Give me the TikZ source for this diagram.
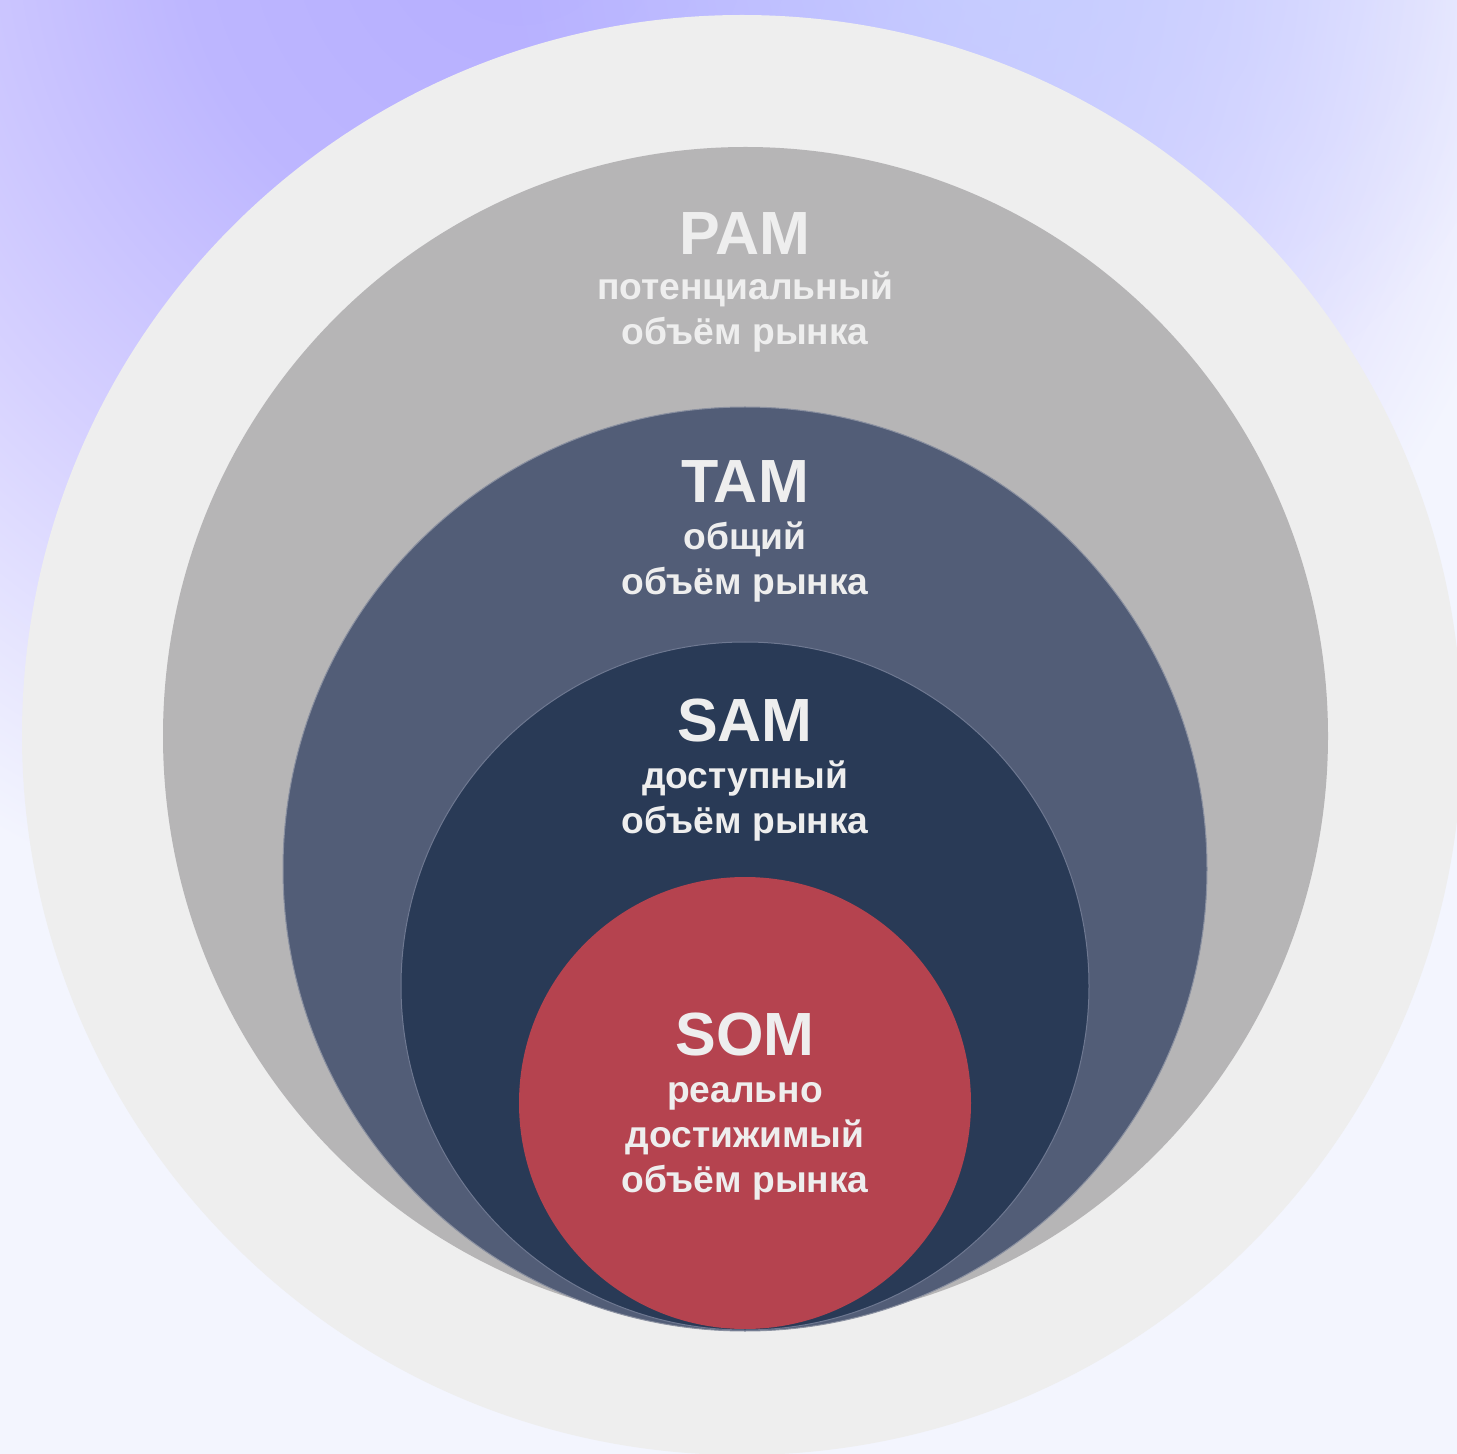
\documentclass[tikz,border=0pt]{standalone}
\usepackage{fontspec}
\usetikzlibrary{fadings}
\setmainfont{Liberation Sans}
\definecolor{bgc}{HTML}{F3F5FE}
\definecolor{glowA}{HTML}{B5AEFF}
\definecolor{glowB}{HTML}{BDB6FF}
\definecolor{glowC}{HTML}{D6D1FF}
\definecolor{glowblue}{HTML}{C6D0FF}
\definecolor{outerc}{HTML}{EEEEEE}
\definecolor{pamc}{HTML}{B6B5B6}
\definecolor{tamc}{HTML}{525D77}
\definecolor{tamedge}{HTML}{8A90A0}
\definecolor{samc}{HTML}{293A56}
\definecolor{samedge}{HTML}{6E7891}
\definecolor{somc}{HTML}{B5434F}
\definecolor{txtc}{HTML}{EEEEEE}
\pgfdeclareradialshading{glow}{\pgfpoint{0bp}{0bp}}{color(0bp)=(glowA); color(8bp)=(glowB); color(16bp)=(glowC); color(25bp)=(bgc); color(50bp)=(bgc)}
\tikzfading[name=softglow, inner color=transparent!15, outer color=transparent!100]
\tikzset{
  ttl/.style={text=txtc, font=\fontsize{30.5}{30.5}\selectfont\bfseries, inner sep=0pt, anchor=base},
  subl/.style={text=txtc, font=\fontsize{18.6}{22}\selectfont\bfseries, inner sep=0pt, anchor=base}
}
\begin{document}
\begin{tikzpicture}[x=0.5pt, y=-0.5pt]
\useasboundingbox (0,0) rectangle (1457,1454);
\begin{scope}
  \clip (0,0) rectangle (1457,1454);
  \fill[bgc] (0,0) rectangle (1457,1454);
  \shade[shading=glow] (520,-80) circle (1050);
  \fill[glowblue, path fading=softglow] (1020,-60) circle (520);
  \fill[outerc] (742,735) ellipse (720 and 720);
\end{scope}
% market circles
\fill[pamc] (745.5,736) ellipse (582.5 and 589);
\fill[tamc, draw=tamedge, line width=0.5pt] (745,869) circle (462);
\fill[samc, draw=samedge, line width=0.5pt] (745,986) circle (344);
\fill[somc] (745,1103) circle (226);
% labels
\node[ttl]  (pamT) at (745,255) {PAM};
\node[subl] (pam1) at (745,300) {потенциальный};
\node[subl] (pam2) at (745,345) {объём рынка};
\node[ttl]  (tamT) at (745,503) {TAM};
\node[subl] (tam1) at (745,550) {общий};
\node[subl] (tam2) at (745,595) {объём рынка};
\node[ttl]  (samT) at (745,741) {SAM};
\node[subl] (sam1) at (745,788) {доступный};
\node[subl] (sam2) at (745,833) {объём рынка};
\node[ttl]  (somT) at (745,1055) {SOM};
\node[subl] (som1) at (745,1102) {реально};
\node[subl] (som2) at (745,1147) {достижимый};
\node[subl] (som3) at (745,1192) {объём рынка};
\end{tikzpicture}
\end{document}
